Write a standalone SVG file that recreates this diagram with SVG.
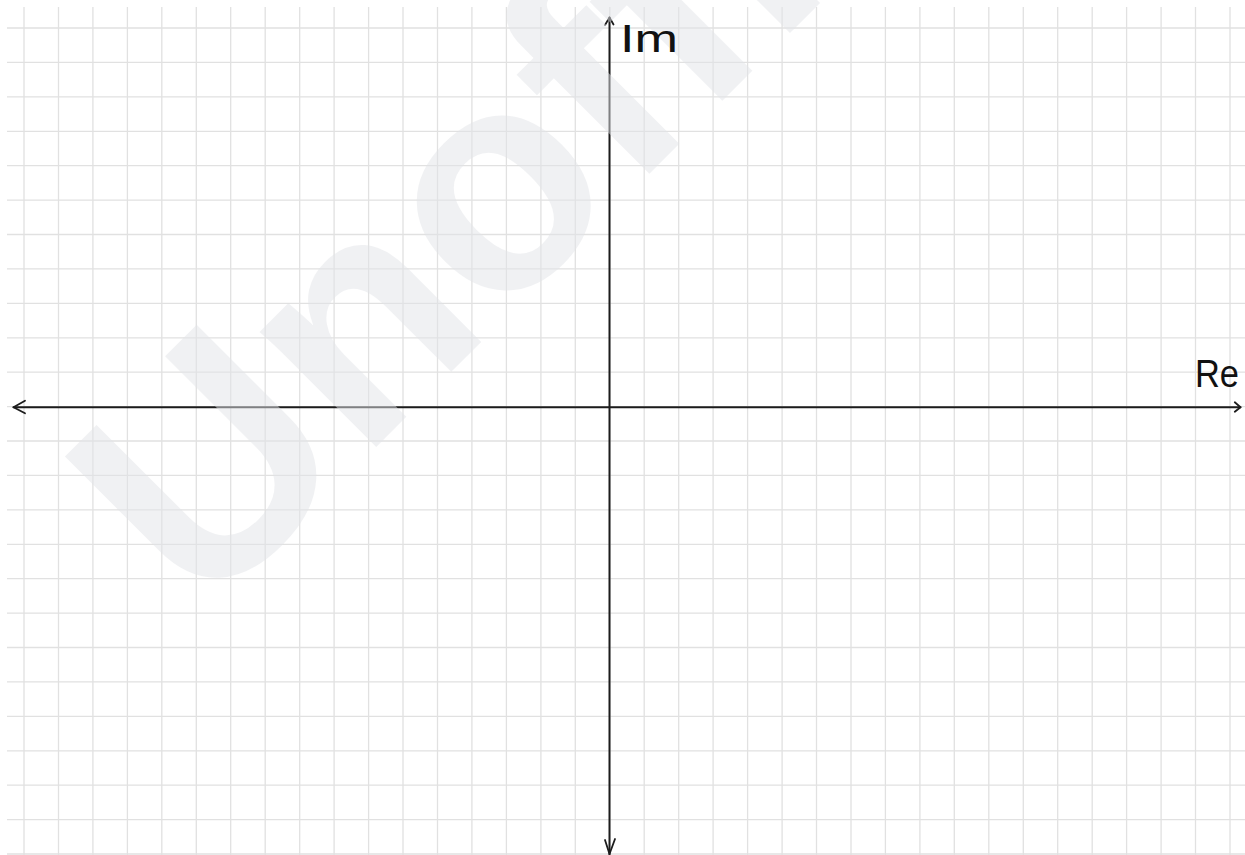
<svg xmlns="http://www.w3.org/2000/svg" width="1245" height="855" viewBox="0 0 1245 855">
<style>
.grid{stroke:#e1e1e1;stroke-width:1.3;fill:none}
.axis{stroke:#1c1c1c;stroke-width:2;fill:none;stroke-linecap:round;stroke-linejoin:round}
.head{stroke:#1c1c1c;stroke-width:1.8;fill:none;stroke-linecap:round;stroke-linejoin:round}
.wm{font-family:"Liberation Sans",Arial,sans-serif;font-weight:bold;font-size:310px;fill:#e2e4e8;fill-opacity:0.5}
.lbl{font-family:"Liberation Sans",Arial,sans-serif;font-size:39px;fill:#111}
</style>
<rect x="0" y="0" width="1245" height="855" fill="#ffffff"/>
<g id="grid" class="grid">
<path d="M24,7V855M58.5,7V855M92.9,7V855M127.4,7V855M161.8,7V855M196.3,7V855M230.7,7V855M265.2,7V855M299.7,7V855M334.1,7V855M368.6,7V855M403,7V855M437.5,7V855M471.9,7V855M506.4,7V855M540.9,7V855M575.3,7V855M609.8,7V855M644.2,7V855M678.7,7V855M713.1,7V855M747.6,7V855M782.1,7V855M816.5,7V855M851,7V855M885.4,7V855M919.9,7V855M954.3,7V855M988.8,7V855M1023.3,7V855M1057.7,7V855M1092.2,7V855M1126.6,7V855M1161.1,7V855M1195.5,7V855M1230,7V855"/>
<path d="M7,28H1245M7,62.4H1245M7,96.8H1245M7,131.3H1245M7,165.7H1245M7,200.1H1245M7,234.5H1245M7,268.9H1245M7,303.3H1245M7,337.8H1245M7,372.2H1245M7,406.6H1245M7,441H1245M7,475.4H1245M7,509.8H1245M7,544.3H1245M7,578.7H1245M7,613.1H1245M7,647.5H1245M7,681.9H1245M7,716.3H1245M7,750.8H1245M7,785.2H1245M7,819.6H1245M7,854H1245"/>
</g>
<g id="connectors">
<g id="real-axis">
<path class="axis" d="M13.5,407.2H1240.5"/>
<path class="head" d="M25,400.7L13.5,407.2L25,413.3"/>
<path class="head" d="M1234.8,402.3L1240.5,407.2L1234.8,411.8"/>
</g>
<g id="imaginary-axis">
<path class="axis" d="M609.5,17.5V855"/>
<path class="head" d="M605,25L609.5,17.5L613.5,24.5"/>
<path class="head" d="M605,840L609.5,854L615,839"/>
</g>
</g>
<g id="watermark">
<text class="wm" transform="translate(202.6,620.5) rotate(-45)">Unofficial</text>
</g>
<g id="label-im">
<text class="lbl" x="620" y="52" textLength="58" lengthAdjust="spacingAndGlyphs">Im</text>
</g>
<g id="label-re">
<text class="lbl" x="1195" y="387" textLength="44" lengthAdjust="spacingAndGlyphs">Re</text>
</g>
</svg>
